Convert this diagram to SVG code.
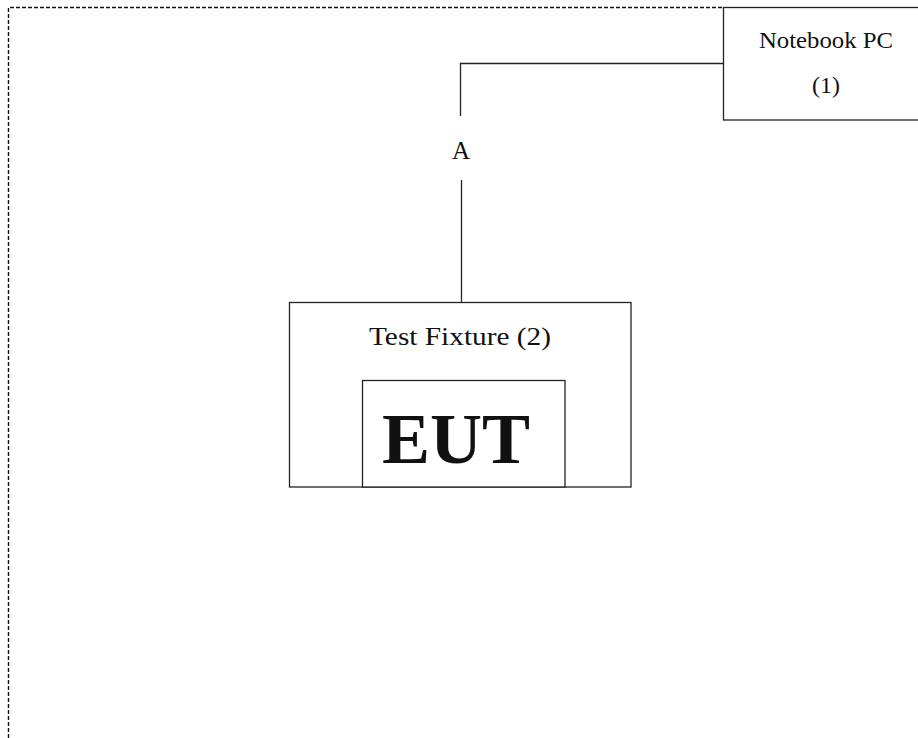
<svg xmlns="http://www.w3.org/2000/svg" width="918" height="738" viewBox="0 0 918 738">
<style>
.box{fill:#fff;stroke:#222;stroke-width:1.3}
.ln{fill:none;stroke:#222;stroke-width:1.3}
.dash{fill:none;stroke:#111;stroke-width:1.4;stroke-dasharray:4 2}
.t{font-family:"Liberation Serif","Times New Roman",serif;fill:#111;text-anchor:middle}
</style>
<rect width="918" height="738" fill="#fff"/>
<path class="dash" d="M8.5 738 V7.5 H723"/>
<g id="connectors">
<path class="ln" d="M723 63.5 H460.5 V116"/>
<path class="ln" d="M461.5 180 V302"/>
<text class="t" x="461" y="159" font-size="25">A</text>
</g>
<g id="notebook">
<rect class="box" x="723.5" y="7.5" width="200" height="112.5"/>
<text class="t" x="826" y="48" font-size="24" textLength="134" lengthAdjust="spacingAndGlyphs">Notebook PC</text>
<text class="t" x="826" y="93" font-size="24">(1)</text>
</g>
<g id="fixture">
<rect class="box" x="289.5" y="302.5" width="341.5" height="184.5"/>
<text class="t" x="460" y="345" font-size="26" textLength="182" lengthAdjust="spacingAndGlyphs">Test Fixture (2)</text>
</g>
<g id="eut">
<rect class="box" x="362.5" y="380.5" width="202.5" height="106.5"/>
<text class="t" x="456" y="463" font-size="72" font-weight="bold" fill="#000">EUT</text>
</g>
</svg>
